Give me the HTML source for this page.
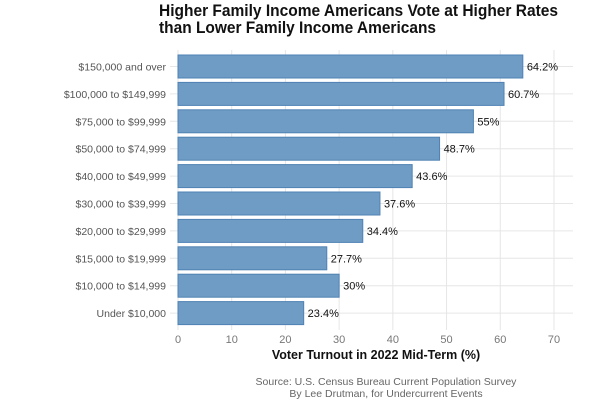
<!DOCTYPE html>
<html><head><meta charset="utf-8"><style>
body{margin:0;background:#fff;width:600px;height:400px;overflow:hidden;font-family:"Liberation Sans",sans-serif}
</style></head><body>
<svg id="c" width="600" height="400">
<text x="159" y="16" font-size="16.5" font-weight="bold" fill="#111" textLength="399" lengthAdjust="spacingAndGlyphs">Higher Family Income Americans Vote at Higher Rates</text>
<text x="159" y="33" font-size="16.5" font-weight="bold" fill="#111" textLength="277" lengthAdjust="spacingAndGlyphs">than Lower Family Income Americans</text>
<g id="grid"></g><g id="bars"></g><g id="labels"></g>
<text x="376" y="359" font-size="12.5" font-weight="bold" text-anchor="middle" fill="#111">Voter Turnout in 2022 Mid-Term (%)</text>
<text x="386" y="385" font-size="10.5" text-anchor="middle" fill="#666">Source: U.S. Census Bureau Current Population Survey</text>
<text x="386" y="397" font-size="10.5" text-anchor="middle" fill="#666">By Lee Drutman, for Undercurrent Events</text>
</svg>
<script>
const categories=["$150,000 and over","$100,000 to $149,999","$75,000 to $99,999","$50,000 to $74,999","$40,000 to $49,999","$30,000 to $39,999","$20,000 to $29,999","$15,000 to $19,999","$10,000 to $14,999","Under $10,000"];
const values=[64.2,60.7,55,48.7,43.6,37.6,34.4,27.7,30,23.4];
const valueLabels=["64.2%","60.7%","55%","48.7%","43.6%","37.6%","34.4%","27.7%","30%","23.4%"];
const ticks=[0,10,20,30,40,50,60,70];
const ns="http://www.w3.org/2000/svg";
const x=v=>178+v*5.371;
const y=i=>66.5+i*27.4;
function mk(t,a,p){const e=document.createElementNS(ns,t);for(const k in a)e.setAttribute(k,a[k]);p.appendChild(e);return e;}
const g=document.getElementById('grid'),b=document.getElementById('bars'),l=document.getElementById('labels');
ticks.forEach(t=>{
 const ln=mk('line',{x1:x(t),x2:x(t),y1:50,y2:330,stroke:'#e6e6e6','stroke-width':1},g);
 
 
 const tx=mk('text',{x:x(t),y:343,'font-size':11,'text-anchor':'middle',fill:'#777'},l);
 tx.textContent=t;
 
 
});
categories.forEach((c,i)=>{
 const gl=mk('line',{x1:170,x2:573,y1:y(i),y2:y(i),stroke:'#e6e6e6'},g);
 
 
 const r=mk('rect',{x:x(0),y:y(i)-11.5,width:x(values[i])-x(0),height:23,fill:'#6f9cc4',stroke:'#4f82b4','stroke-width':1},b);
 
 
 const cl=mk('text',{x:166,y:y(i)+4,'font-size':10.5,'text-anchor':'end',fill:'#555'},l);
 cl.textContent=c;
 
 
 const vl=mk('text',{x:x(values[i])+4,y:y(i)+4,'font-size':11,fill:'#111'},l);
 vl.textContent=valueLabels[i];
 
 
});
</script>
</body></html>
